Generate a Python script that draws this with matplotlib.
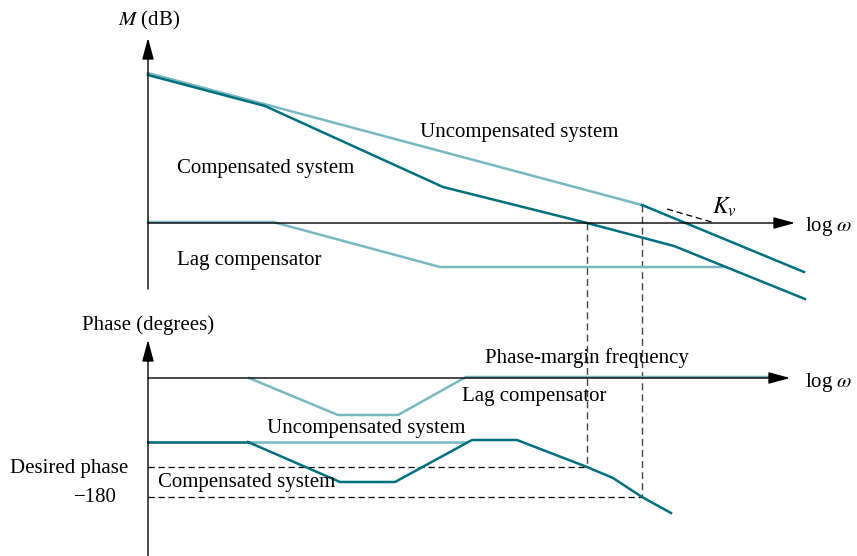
import matplotlib
matplotlib.use("Agg")
from matplotlib import pyplot as plt

plt.rcParams["mathtext.fontset"] = "stix"

LIGHT = "#78b8bf"
DARK = "#006f7e"

# magnitude plot (x = log w position, y = drawing units, down is negative dB)
mag_uncomp_x = [148, 642]
mag_uncomp_y = [73, 205]
mag_uncomp_hf_x = [642, 804]
mag_uncomp_hf_y = [205, 272]
mag_comp_x = [148, 265, 443, 587, 674, 805]
mag_comp_y = [75, 106, 187, 223, 246, 299]
mag_lag_x = [148, 273, 440, 722]
mag_lag_y = [222, 222, 267, 267]
kv_x = [667, 715]
kv_y = [209, 223]

# phase plot
ph_lag_x = [249, 338, 398, 466, 780]
ph_lag_y = [378, 415, 415, 377, 377]
ph_uncomp_x = [148, 466]
ph_uncomp_y = [442, 442]
ph_comp_x = [148, 248, 340, 395, 472, 517, 587, 613, 642, 671]
ph_comp_y = [442, 442, 482, 482, 440, 440, 467, 478, 497, 513]
desired_y = 467
minus180_y = 497
pm_freq_x = 587
kv_freq_x = 642

fig = plt.figure(figsize=(8.57, 5.56), dpi=100)
ax = fig.add_axes([0, 0, 1, 1])
ax.set_xlim(0, 857)
ax.set_ylim(556, 0)
ax.axis("off")

font = dict(family="Liberation Serif", fontsize=15)

def arrow(x0, y0, x1, y1):
    ax.annotate("", xy=(x1, y1), xytext=(x0, y0),
                arrowprops=dict(arrowstyle="-|>,head_length=1.1,head_width=0.3",
                                color="black", lw=1.0, shrinkA=0, shrinkB=0,
                                mutation_scale=12))

# axes
arrow(148, 289, 148, 38)
arrow(148, 223, 795, 223)
arrow(148, 556, 148, 340)
arrow(148, 378, 790, 378)

# dashed guides
ax.plot([pm_freq_x, pm_freq_x], [223, desired_y], ls=(0, (5, 3)), color="#444444", lw=1.0)
ax.plot([kv_freq_x, kv_freq_x], [205, minus180_y], ls=(0, (5, 3)), color="#444444", lw=1.0)
ax.plot([148, pm_freq_x], [desired_y, desired_y], ls=(0, (5, 3)), color="black", lw=0.9)
ax.plot([148, kv_freq_x], [minus180_y, minus180_y], ls=(0, (5, 3)), color="black", lw=0.9)
ax.plot(kv_x, kv_y, ls=(0, (5, 3)), color="black", lw=0.9)

# magnitude curves
ax.plot(mag_uncomp_x, mag_uncomp_y, color=LIGHT, lw=1.8)
ax.plot(mag_lag_x, mag_lag_y, color=LIGHT, lw=1.8)
ax.plot(mag_comp_x, mag_comp_y, color=DARK, lw=1.8)
ax.plot(mag_uncomp_hf_x, mag_uncomp_hf_y, color=DARK, lw=1.8)

# phase curves
ax.plot(ph_lag_x, ph_lag_y, color=LIGHT, lw=1.8)
ax.plot(ph_uncomp_x, ph_uncomp_y, color=LIGHT, lw=1.8)
ax.plot(ph_comp_x[:2], ph_comp_y[:2], color=DARK, lw=1.8)
ax.plot(ph_comp_x[1:], ph_comp_y[1:], color=DARK, lw=1.8)

# labels
ax.text(118, 20, r"$M$ (dB)", va="center", ha="left", **font)
ax.text(805, 227, r"log $\omega$", va="center", ha="left", **font)
ax.text(420, 133, "Uncompensated system", va="center", ha="left", **font)
ax.text(177, 169, "Compensated system", va="center", ha="left", **font)
ax.text(177, 261, "Lag compensator", va="center", ha="left", **font)
ax.text(712, 207, r"$K_v$", va="center", ha="left", family="Liberation Serif", fontsize=17)

ax.text(82, 325, "Phase (degrees)", va="center", ha="left", **font)
ax.text(805, 382, r"log $\omega$", va="center", ha="left", **font)
ax.text(485, 358, "Phase-margin frequency", va="center", ha="left", **font)
ax.text(462, 397, "Lag compensator", va="center", ha="left", **font)
ax.text(267, 429, "Uncompensated system", va="center", ha="left", **font)
ax.text(158, 483, "Compensated system", va="center", ha="left", **font)
ax.text(10, 469, "Desired phase", va="center", ha="left", **font)
ax.text(117, 498, "\u2212180", va="center", ha="right", **font)

fig.savefig("out.png", dpi=100)
